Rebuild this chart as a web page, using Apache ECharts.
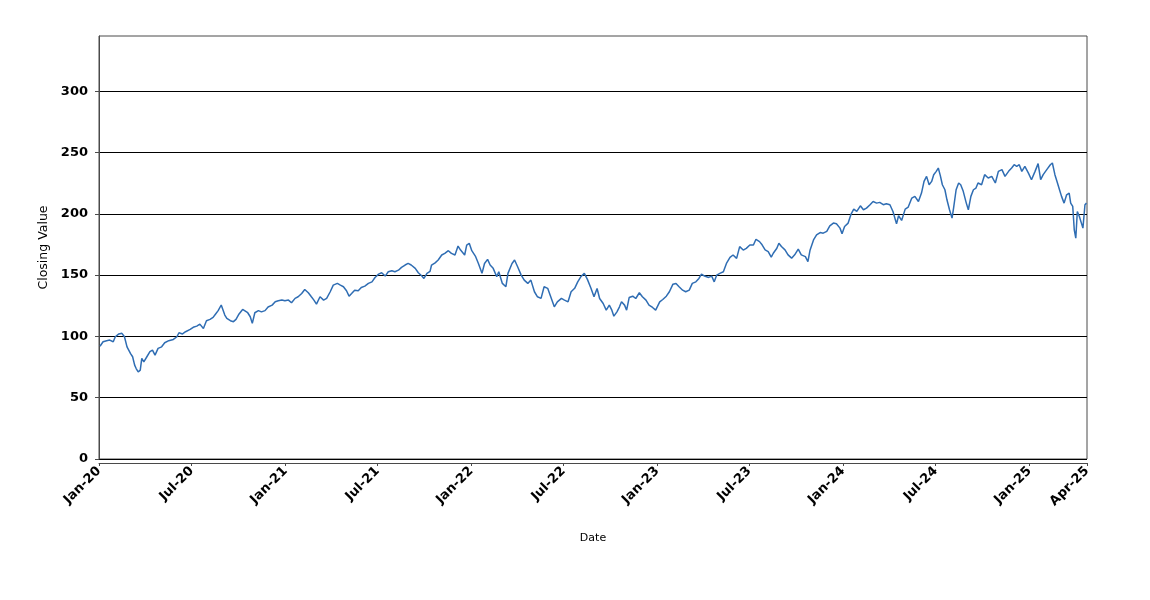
<!DOCTYPE html>
<html>
<head>
<meta charset="utf-8">
<script src="https://cdn.jsdelivr.net/npm/echarts@6/dist/echarts.min.js"></script>
<style>
html,body{margin:0;padding:0;background:#ffffff;}
#chart{width:1150px;height:600px;}
</style>
</head>
<body>
<div id="chart"></div>
<script>
// ---- data ----
const dates = [
  // 2020
  '2020-01-03','2020-01-09','2020-01-16','2020-01-22','2020-01-29','2020-02-02','2020-02-09','2020-02-15','2020-02-20','2020-02-25',
  '2020-02-28','2020-03-03','2020-03-07','2020-03-11','2020-03-14','2020-03-18','2020-03-22','2020-03-25','2020-03-29','2020-04-04',
  '2020-04-10','2020-04-15','2020-04-20','2020-04-26','2020-05-03','2020-05-09','2020-05-17','2020-05-26','2020-06-02','2020-06-06',
  '2020-06-13','2020-06-19','2020-06-28','2020-07-04','2020-07-11','2020-07-17','2020-07-24','2020-07-30','2020-08-06','2020-08-12',
  '2020-08-17','2020-08-22','2020-08-28','2020-08-31','2020-09-04','2020-09-08','2020-09-15','2020-09-21','2020-09-26','2020-10-02',
  '2020-10-09','2020-10-12','2020-10-19','2020-10-24','2020-10-28','2020-11-02','2020-11-09','2020-11-15','2020-11-22','2020-11-28',
  '2020-12-06','2020-12-12','2020-12-18','2020-12-25','2020-12-31',
  // 2021
  '2021-01-07','2021-01-13','2021-01-20','2021-01-26','2021-02-02','2021-02-08','2021-02-15','2021-02-21','2021-02-26','2021-03-03',
  '2021-03-10','2021-03-17','2021-03-23','2021-03-30','2021-04-05','2021-04-13','2021-04-19','2021-04-25','2021-05-01','2021-05-06',
  '2021-05-11','2021-05-17','2021-05-24','2021-05-30','2021-06-06','2021-06-13','2021-06-20','2021-06-26','2021-07-03','2021-07-09',
  '2021-07-16','2021-07-22','2021-07-29','2021-08-04','2021-08-11','2021-08-17','2021-08-24','2021-08-30','2021-09-05','2021-09-13',
  '2021-09-19','2021-09-26','2021-09-30','2021-10-06','2021-10-12','2021-10-15','2021-10-22','2021-10-28','2021-11-04','2021-11-10',
  '2021-11-17','2021-11-23','2021-11-30','2021-12-06','2021-12-11','2021-12-19','2021-12-23','2021-12-28',
  // 2022
  '2022-01-02','2022-01-09','2022-01-15','2022-01-22','2022-01-27','2022-02-02','2022-02-07','2022-02-13','2022-02-20','2022-02-24',
  '2022-03-03','2022-03-10','2022-03-14','2022-03-22','2022-03-27','2022-04-02','2022-04-09','2022-04-15','2022-04-22','2022-04-28',
  '2022-05-05','2022-05-11','2022-05-18','2022-05-24','2022-05-31','2022-06-06','2022-06-13','2022-06-19','2022-06-27','2022-07-03',
  '2022-07-10','2022-07-16','2022-07-23','2022-07-29','2022-08-04','2022-08-11','2022-08-17','2022-08-24','2022-08-30','2022-09-05',
  '2022-09-10','2022-09-17','2022-09-23','2022-09-29','2022-10-04','2022-10-08','2022-10-14','2022-10-19','2022-10-23','2022-10-29',
  '2022-11-02','2022-11-07','2022-11-14','2022-11-20','2022-11-27','2022-12-03','2022-12-10','2022-12-16','2022-12-23','2022-12-29',
  // 2023
  '2023-01-06','2023-01-12','2023-01-19','2023-01-25','2023-02-01','2023-02-07','2023-02-13','2023-02-20','2023-02-26','2023-03-05',
  '2023-03-11','2023-03-18','2023-03-24','2023-03-29','2023-04-04','2023-04-12','2023-04-18','2023-04-23','2023-04-28','2023-05-04',
  '2023-05-11','2023-05-17','2023-05-24','2023-05-30','2023-06-06','2023-06-12','2023-06-19','2023-06-25','2023-07-02','2023-07-09',
  '2023-07-14','2023-07-21','2023-07-26','2023-08-01','2023-08-07','2023-08-13','2023-08-17','2023-08-24','2023-08-28','2023-09-02',
  '2023-09-09','2023-09-15','2023-09-22','2023-09-28','2023-10-05','2023-10-11','2023-10-19','2023-10-24','2023-10-28','2023-11-04',
  '2023-11-10','2023-11-17','2023-11-23','2023-11-30','2023-12-06','2023-12-13','2023-12-19','2023-12-26','2023-12-30',
  // 2024
  '2024-01-04','2024-01-11','2024-01-17','2024-01-22','2024-01-28','2024-02-04','2024-02-10','2024-02-16','2024-02-23','2024-02-29',
  '2024-03-07','2024-03-13','2024-03-20','2024-03-26','2024-04-02','2024-04-08','2024-04-15','2024-04-19','2024-04-25','2024-05-02',
  '2024-05-08','2024-05-15','2024-05-21','2024-05-28','2024-06-03','2024-06-08','2024-06-13','2024-06-18','2024-06-23','2024-06-27',
  '2024-07-02','2024-07-06','2024-07-10','2024-07-14','2024-07-19','2024-07-23','2024-07-28','2024-08-02','2024-08-05','2024-08-10',
  '2024-08-15','2024-08-19','2024-08-24','2024-08-30','2024-09-03','2024-09-08','2024-09-13','2024-09-18','2024-09-22','2024-09-29',
  '2024-10-05','2024-10-12','2024-10-19','2024-10-26','2024-11-01','2024-11-08','2024-11-14','2024-11-21','2024-11-27','2024-12-02',
  '2024-12-07','2024-12-12','2024-12-17','2024-12-23','2024-12-30',
  // 2025
  '2025-01-05','2025-01-12','2025-01-18','2025-01-23','2025-01-28','2025-02-04','2025-02-11','2025-02-15','2025-02-20','2025-02-25',
  '2025-03-01','2025-03-05','2025-03-10','2025-03-15','2025-03-20','2025-03-23','2025-03-27','2025-03-30','2025-04-02','2025-04-05',
  '2025-04-09','2025-04-13','2025-04-16','2025-04-20','2025-04-23'
];

const closingValues = [
  // 2020
  92,95.6,96.5,97,95.6,99.7,102,102.5,99.7,91.5,
  93,86,83.4,76.6,73.8,71,72.5,82,79.3,83.4,
  87.5,88.8,84.7,90.2,91.5,94.8,96.5,97.5,99.7,103,
  102,103.8,105.7,107.4,108.4,110,106.5,112.8,113.9,115.5,
  118.3,121,125.6,127,117.4,114.7,112.8,112,113.9,118.3,
  122,122.9,119.3,116,110.6,119.3,121,120,121,124,
  125.5,128.2,129,129.6,129,
  // 2021
  129.6,127.4,131,132.3,135,138.3,135.6,132.3,129.6,126.3,
  132.3,129.6,131,136.4,141.8,143.2,141.8,140.5,137.2,132.8,
  135,137.7,137.2,139.9,141,143.2,144.5,148,150.8,151.9,
  149.2,152.7,153.5,152.7,154,156.3,158.2,159.5,158.2,155.5,
  151.9,149.2,147.3,151.4,153,158.2,160,162.3,166.4,167.7,
  169.9,167.7,166.4,173.7,170.4,166.4,174.5,175.9,
  // 2022
  169.9,165.5,159.5,151.4,159.5,162.8,158.2,155.5,148.6,152.7,
  143.2,140.5,151.4,159.5,162.3,156.8,150,145.9,143.2,145.9,
  136.4,132.3,131,140.5,139.2,132.3,124.1,128.2,131,129.6,
  128.2,136.4,139.2,144.5,148.6,151.4,146.5,139.2,132.3,139.1,
  130.9,126.8,121.4,125.5,121.4,116.5,120,124.1,128.2,125.5,
  121.4,131.7,132.8,130.9,135.6,132.3,129.6,125.5,123.6,121.4,
  // 2023
  128.2,130.1,132.8,136.4,142.6,143.2,140.5,137.7,136.4,137.7,
  143.2,144.5,147.3,150.8,149.2,148.1,149.2,144.5,150,151.4,
  152.7,159.5,164.4,166.4,163.6,173.2,170.4,171.8,174.5,174.5,
  179.2,177.3,174.7,170.6,169.2,164.6,167.8,171.9,176,173.3,
  170.6,166.5,163.8,166.5,171.1,166.5,165.1,161,170,178.7,
  182.8,184.7,184.2,185.6,190.2,192.4,191.8,188.3,183.7,
  // 2024
  189.6,192.4,200,203.8,201.9,206.5,203.3,204.6,207.4,210,
  208.7,209.3,207.4,208.2,207.4,201.9,191.8,198.4,194.6,203.8,
  205.5,212.8,214.2,210,216.9,226.4,230.5,223.7,226.4,231.9,
  234.6,237.3,231.1,223.7,219.6,211.4,203.3,196.5,204.6,219.6,
  225.1,223.7,218.3,208.7,203.3,214.2,219.6,221,225.1,223.7,
  231.9,229.2,230.5,225.1,234.6,236,230.5,234.6,237.3,240,
  238.7,240,234.6,238.7,233.2,
  // 2025
  227.8,234.6,240.9,227.8,231.9,236,240,241.4,231.9,225.1,
  219.6,214.2,208.7,215.5,216.9,208.7,206,186.9,180.1,201.9,
  197.8,192.4,188.3,207.4,208.7
];

const xTickDates  = ['2020-01-01','2020-07-01','2021-01-01','2021-07-01','2022-01-01','2022-07-01',
                     '2023-01-01','2023-07-01','2024-01-01','2024-07-01','2025-01-01','2025-04-24'];
const xTickLabels = ['Jan-20','Jul-20','Jan-21','Jul-21','Jan-22','Jul-22',
                     'Jan-23','Jul-23','Jan-24','Jul-24','Jan-25','Apr-25'];
const yTicks = [0, 50, 100, 150, 200, 250, 300];

const xStart = '2020-01-01';
const xEnd = '2025-04-24';
const yMin = 0;
const yMax = 345;

// ---- chart ----
// The x axis is a value axis in days counted from xStart.
function utcOf(s) {
  const p = s.split('-').map(Number);
  return Date.UTC(p[0], p[1] - 1, p[2]);
}
const DAY = 86400000;
const t0 = utcOf(xStart);
const dayOf = (s) => Math.round((utcOf(s) - t0) / DAY);

const tickDays = xTickDates.map(dayOf);
function xLabel(v) {
  let best = -1, bd = Infinity;
  tickDays.forEach((t, i) => { const d = Math.abs(t - v); if (d < bd) { bd = d; best = i; } });
  return bd < 3 ? xTickLabels[best] : '';
}

const seriesData = dates.map((d, i) => [dayOf(d), closingValues[i]]);
const FONT = 'DejaVu Sans';
const AXIS_COLOR = '#4a4a4a';

const chart = echarts.init(document.getElementById('chart'), null, { renderer: 'canvas' });
chart.setOption({
  animation: false,
  backgroundColor: '#ffffff',
  grid: {
    left: 99, right: 63, top: 36, bottom: 141,
    show: true, borderColor: AXIS_COLOR, borderWidth: 1, backgroundColor: '#ffffff'
  },
  xAxis: {
    type: 'value',
    min: dayOf(xStart),
    max: dayOf(xEnd),
    offset: 4,
    name: 'Date',
    nameLocation: 'middle',
    nameGap: 70,
    nameTextStyle: { fontFamily: FONT, fontSize: 11, color: '#000' },
    axisLine: { show: true, onZero: false, lineStyle: { color: AXIS_COLOR, width: 1 } },
    axisTick: { show: true, length: 3, customValues: tickDays, lineStyle: { color: AXIS_COLOR } },
    axisLabel: {
      customValues: tickDays,
      rotate: 45,
      margin: 6,
      fontFamily: FONT,
      fontSize: 13,
      fontWeight: 'bold',
      color: '#000',
      formatter: (v) => xLabel(v)
    },
    splitLine: { show: false }
  },
  yAxis: {
    type: 'value',
    min: yMin,
    max: yMax,
    interval: 50,
    offset: 4,
    name: 'Closing Value',
    nameLocation: 'middle',
    nameGap: 44,
    nameTextStyle: { fontFamily: FONT, fontSize: 12.5, color: '#000' },
    axisLine: { show: true, lineStyle: { color: AXIS_COLOR, width: 1 } },
    axisTick: { show: true, length: 4, customValues: yTicks, lineStyle: { color: AXIS_COLOR } },
    axisLabel: {
      customValues: yTicks,
      margin: 7,
      fontFamily: FONT,
      fontSize: 13,
      fontWeight: 'bold',
      color: '#000'
    },
    splitLine: { show: true, lineStyle: { color: '#000000', width: 1 } }
  },
  series: [{
    type: 'line',
    data: seriesData,
    showSymbol: false,
    symbol: 'none',
    lineStyle: { color: '#2f6db3', width: 1.5 },
    itemStyle: { color: '#2f6db3' }
  }]
});
</script>
</body>
</html>
